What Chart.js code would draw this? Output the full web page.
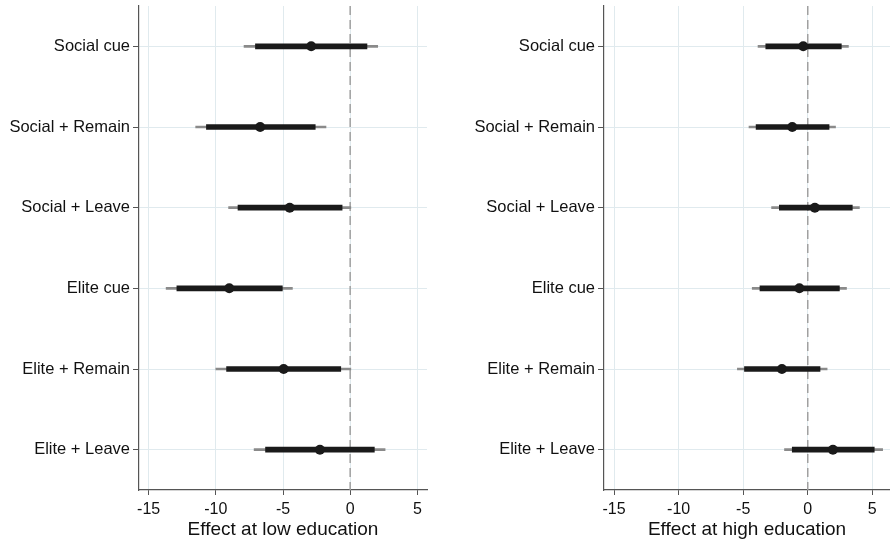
<!DOCTYPE html>
<html>
<head>
<meta charset="utf-8">
<script src="https://cdn.jsdelivr.net/npm/chart.js@4.4.1/dist/chart.umd.min.js"></script>
<style>
  body { margin: 0; background: #fff; }
  #wrap { position: relative; width: 890px; height: 541px; }
  .pane { position: absolute; top: 0; width: 445px; height: 541px; }
</style>
</head>
<body>
<div id="wrap">
  <div class="pane" style="left:0"><canvas id="low"></canvas></div>
  <div class="pane" style="left:445px"><canvas id="high"></canvas></div>
</div>
<script>
const categories = ["Social cue", "Social + Remain", "Social + Leave", "Elite cue", "Elite + Remain", "Elite + Leave"]
const xTicks = [-15, -10, -5, 0, 5]

// low education: point estimate, 90% and 95% intervals
const lowEst   = [-2.9, -6.7, -4.5, -9.0, -4.95, -2.25]
const low90Lo  = [-7.05, -10.7, -8.35, -12.9, -9.2, -6.3]
const low90Hi  = [1.25, -2.6, -0.6, -5.05, -0.7, 1.8]
const low95Lo  = [-7.9, -11.5, -9.05, -13.7, -10.0, -7.15]
const low95Hi  = [2.05, -1.8, 0.05, -4.3, 0.05, 2.6]

// high education
const highEst  = [-0.35, -1.2, 0.55, -0.65, -2.0, 1.95]
const high90Lo = [-3.25, -4.0, -2.2, -3.7, -4.9, -1.2]
const high90Hi = [2.6, 1.65, 3.45, 2.45, 0.95, 5.15]
const high95Lo = [-3.85, -4.55, -2.8, -4.3, -5.45, -1.8]
const high95Hi = [3.15, 2.15, 4.0, 3.0, 1.5, 5.8]

const font = "'Liberation Sans', Arial, sans-serif"

const zeroLine = {
    id: "zeroLine",
    beforeDatasetsDraw(chart) {
        const x = chart.scales.x.getPixelForValue(0)
        const area = chart.chartArea
        const ctx = chart.ctx
        ctx.save()
        ctx.strokeStyle = "#a0a0a0"
        ctx.lineWidth = 1.5
        ctx.setLineDash([9, 5])
        ctx.beginPath()
        ctx.moveTo(x, area.top)
        ctx.lineTo(x, area.bottom)
        ctx.stroke()
        ctx.restore()
    }
}

function makeChart(id, est, lo90, hi90, lo95, hi95, title, xmin, xmax, yWidth, padRight) {
    return new Chart(id, {
        type: "bar",
        data: {
            labels: categories,
            datasets: [
                {
                    type: "line",
                    data: est,
                    showLine: false,
                    pointRadius: 5,
                    pointBackgroundColor: "#1a1a1a",
                    pointBorderWidth: 0,
                    order: 0
                },
                {
                    data: categories.map((c, i) => [lo90[i], hi90[i]]),
                    backgroundColor: "#1a1a1a",
                    barThickness: 5,
                    grouped: false,
                    order: 1
                },
                {
                    data: categories.map((c, i) => [lo95[i], hi95[i]]),
                    backgroundColor: "#8a8a8a",
                    barThickness: 2,
                    grouped: false,
                    order: 2
                }
            ]
        },
        options: {
            indexAxis: "y",
            responsive: true,
            maintainAspectRatio: false,
            animation: false,
            layout: { autoPadding: false, padding: { top: 6, right: padRight, left: 0, bottom: 0 } },
            plugins: { legend: { display: false }, tooltip: { enabled: false } },
            scales: {
                x: {
                    type: "linear",
                    min: xmin,
                    max: xmax,
                    afterBuildTicks: axis => { axis.ticks = xTicks.map(v => ({ value: v })) },
                    afterFit: axis => { axis.height = 51; axis.paddingLeft = 0; axis.paddingRight = 0 },
                    grid: { color: "#e0eaee", lineWidth: 1, drawTicks: true, tickLength: 5, tickColor: "#555" },
                    border: { color: "#555", width: 1.2 },
                    ticks: { color: "#111", font: { family: font, size: 16 }, padding: 5, maxRotation: 0 },
                    title: { display: true, text: title, color: "#111", font: { family: font, size: 19 }, padding: { top: 0, bottom: 0 } }
                },
                y: {
                    type: "category",
                    offset: true,
                    afterFit: axis => { axis.width = yWidth; axis.paddingTop = 0; axis.paddingBottom = 0 },
                    grid: { offset: false, color: "#e0eaee", lineWidth: 1, drawTicks: true, tickLength: 6, tickColor: "#555" },
                    border: { color: "#555", width: 1.2 },
                    ticks: { color: "#111", font: { family: font, size: 16.5 }, padding: 3 }
                }
            }
        },
        plugins: [zeroLine]
    })
}

makeChart("low", lowEst, low90Lo, low90Hi, low95Lo, low95Hi, "Effect at low education", -15.72, 5.72, 139, 18)
makeChart("high", highEst, high90Lo, high90Hi, high95Lo, high95Hi, "Effect at high education", -15.78, 6.37, 159, 0)
</script>
</body>
</html>
